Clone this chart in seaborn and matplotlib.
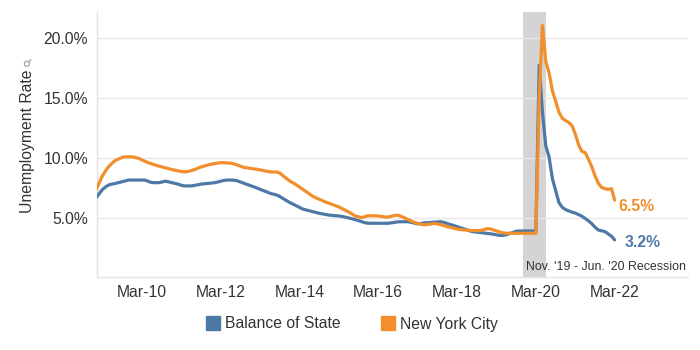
import numpy as np
import pandas as pd
import matplotlib
matplotlib.use("Agg")
import matplotlib.pyplot as plt
import matplotlib.dates as mdates
import matplotlib.transforms as mtransforms
from matplotlib.lines import Line2D
from matplotlib.ticker import FuncFormatter
import seaborn as sns

# Monthly unemployment rate (%), Jan 2009 - Mar 2022
months = pd.date_range("2009-01-01", "2022-03-01", freq="MS")

balance_of_state = [
    6.68, 7.05, 7.37, 7.60, 7.77, 7.83, 7.89, 7.96, 8.03, 8.10,
    8.17, 8.17, 8.17, 8.17, 8.17, 8.17, 8.06, 7.96, 7.95, 7.95,
    7.99, 8.08, 8.03, 7.96, 7.90, 7.83, 7.74, 7.68, 7.68, 7.68,
    7.72, 7.77, 7.83, 7.86, 7.89, 7.91, 7.94, 8.00, 8.07, 8.14,
    8.17, 8.17, 8.16, 8.11, 8.01, 7.92, 7.82, 7.72, 7.61, 7.51,
    7.40, 7.30, 7.19, 7.08, 7.00, 6.94, 6.80, 6.64, 6.48, 6.31,
    6.17, 6.04, 5.90, 5.77, 5.69, 5.62, 5.55, 5.48, 5.41, 5.36,
    5.31, 5.26, 5.23, 5.21, 5.19, 5.15, 5.09, 5.03, 4.96, 4.88,
    4.80, 4.71, 4.62, 4.58, 4.58, 4.58, 4.58, 4.58, 4.58, 4.58,
    4.62, 4.66, 4.70, 4.71, 4.71, 4.71, 4.66, 4.59, 4.53, 4.56,
    4.61, 4.63, 4.65, 4.67, 4.69, 4.71, 4.65, 4.56, 4.47, 4.39,
    4.30, 4.21, 4.13, 4.03, 3.94, 3.87, 3.84, 3.81, 3.78, 3.74,
    3.71, 3.67, 3.62, 3.58, 3.57, 3.63, 3.72, 3.82, 3.92, 3.94,
    3.94, 3.94, 3.94, 3.94, 3.94, 17.7, 13.8, 11.0, 10.1, 8.3,
    7.3, 6.3, 5.9, 5.72, 5.6, 5.5, 5.43, 5.3, 5.17, 4.98,
    4.78, 4.55, 4.25, 4.02, 3.95, 3.89, 3.7, 3.5, 3.2,
]

new_york_city = [
    7.30, 7.95, 8.50, 8.95, 9.30, 9.58, 9.80, 9.93, 10.05, 10.10,
    10.10, 10.10, 10.04, 9.97, 9.85, 9.73, 9.61, 9.52, 9.43, 9.34,
    9.27, 9.19, 9.12, 9.05, 8.99, 8.93, 8.89, 8.85, 8.88, 8.94,
    9.03, 9.14, 9.25, 9.33, 9.41, 9.48, 9.53, 9.57, 9.61, 9.61,
    9.59, 9.57, 9.52, 9.42, 9.32, 9.23, 9.18, 9.14, 9.10, 9.06,
    9.01, 8.95, 8.90, 8.85, 8.84, 8.84, 8.75, 8.53, 8.30, 8.10,
    7.94, 7.77, 7.60, 7.42, 7.22, 7.03, 6.84, 6.70, 6.58, 6.46,
    6.34, 6.24, 6.14, 6.04, 5.94, 5.80, 5.66, 5.52, 5.36, 5.19,
    5.12, 5.05, 5.14, 5.21, 5.20, 5.20, 5.19, 5.15, 5.10, 5.10,
    5.16, 5.23, 5.25, 5.14, 5.03, 4.90, 4.78, 4.65, 4.57, 4.51,
    4.45, 4.48, 4.52, 4.57, 4.53, 4.46, 4.39, 4.30, 4.24, 4.17,
    4.10, 4.06, 4.03, 4.00, 3.98, 3.97, 3.97, 3.97, 4.03, 4.13,
    4.12, 4.03, 3.94, 3.86, 3.79, 3.75, 3.75, 3.75, 3.75, 3.75,
    3.75, 3.75, 3.75, 3.75, 3.75, 15.0, 21.0, 18.0, 17.1, 15.6,
    14.7, 13.8, 13.3, 13.1, 12.95, 12.65, 12.0, 11.1, 10.55, 10.45,
    9.9, 9.28, 8.5, 7.9, 7.55, 7.45, 7.4, 7.45, 6.5,
]

series_names = ["Balance of State", "New York City"]
series_colors = ["#4E79A7", "#F28E2B"]

recession_start = "2019-11-01"
recession_end = "2020-06-01"
recession_label = "Nov. '19 - Jun. '20 Recession"

y_ticks = [5, 10, 15, 20]
x_tick_dates = pd.date_range("2010-03-01", "2022-03-01", freq="24MS")
y_label = "Unemployment Rate"

# Long-form table for seaborn
df = pd.DataFrame({
    "month": np.concatenate([months, months]),
    "rate": np.concatenate([balance_of_state, new_york_city]),
    "area": np.repeat(series_names, len(months)),
})

sns.set_theme(style="white")
plt.rcParams["font.family"] = ["Liberation Sans", "DejaVu Sans"]

text_color = "#333333"
grid_color = "#e8e8e8"

fig = plt.figure(figsize=(7, 3.5), dpi=100)
ax = fig.add_axes([97 / 700, 1 - 277 / 350, (688 - 97) / 700, (277 - 12) / 350])

# Recession shading behind the lines
ax.axvspan(pd.Timestamp(recession_start), pd.Timestamp(recession_end),
           color="#d4d4d4", zorder=0, lw=0)

sns.lineplot(data=df, x="month", y="rate", hue="area",
             palette=dict(zip(series_names, series_colors)),
             linewidth=2.3, legend=False, ax=ax, zorder=3)

ax.set_xlim(pd.Timestamp("2009-01-11"), pd.Timestamp("2024-01-10"))
ax.set_ylim(0.12, 22.12)

ax.set_yticks(y_ticks)
ax.yaxis.set_major_formatter(FuncFormatter(lambda v, _: f"{v:.1f}%"))
ax.set_xticks(x_tick_dates)
ax.xaxis.set_major_formatter(mdates.DateFormatter("%b-%y"))
ax.tick_params(axis="y", length=0, pad=6.5, labelsize=11.3, labelcolor=text_color)
ax.tick_params(axis="x", length=0, pad=6, labelsize=11.3, labelcolor=text_color)

ax.yaxis.grid(True, color=grid_color, linewidth=1)
ax.xaxis.grid(False)
ax.set_axisbelow(True)
for side in ["top", "right"]:
    ax.spines[side].set_visible(False)
for side in ["left", "bottom"]:
    ax.spines[side].set_color("#e4e4e4")
    ax.spines[side].set_linewidth(1)

ax.set_xlabel("")
ax.set_ylabel("")

# Recession caption at the bottom of the shaded band
blend = mtransforms.blended_transform_factory(ax.transData, ax.transAxes)
ax.annotate(recession_label, xy=(mdates.date2num(pd.Timestamp(recession_start)), 0.038),
            xycoords=blend, xytext=(2.5, 0), textcoords="offset points",
            ha="left", va="center", fontsize=8.9, color=text_color, zorder=4,
            annotation_clip=False)

# End-of-series value labels
last = months[-1]
for vals, color, dx, dy in [(balance_of_state, series_colors[0], 7.5, -2.0),
                            (new_york_city, series_colors[1], 2.5, -4.5)]:
    ax.annotate(f"{vals[-1]:.1f}%", xy=(last, vals[-1]), xytext=(dx, dy),
                textcoords="offset points", ha="left", va="center",
                fontsize=11.3, fontweight="bold", color=color, zorder=5,
                annotation_clip=False)

# Rotated axis title with a small pin glyph above it
fig.text(27.5 / 700, 1 - 141 / 350, y_label, rotation=90, ha="center", va="center",
         fontsize=11.3, color=text_color)
fig.text(27.5 / 700, 1 - 60 / 350, "\u26b2", rotation=135, ha="center", va="center",
         fontsize=8, color="#8a8a8a", family=["DejaVu Sans"])

# Legend under the chart
handles = [Line2D([0], [0], marker="s", linestyle="", markersize=10.5,
                  markerfacecolor=c, markeredgecolor=c) for c in series_colors]
fig.legend(handles, series_names, loc="center", bbox_to_anchor=(352 / 700, 1 - 324 / 350),
           ncol=2, frameon=False, fontsize=11.3, handlelength=0.9, handletextpad=0.3,
           columnspacing=2.6, labelcolor=text_color)

fig.savefig("out.png", dpi=100)
